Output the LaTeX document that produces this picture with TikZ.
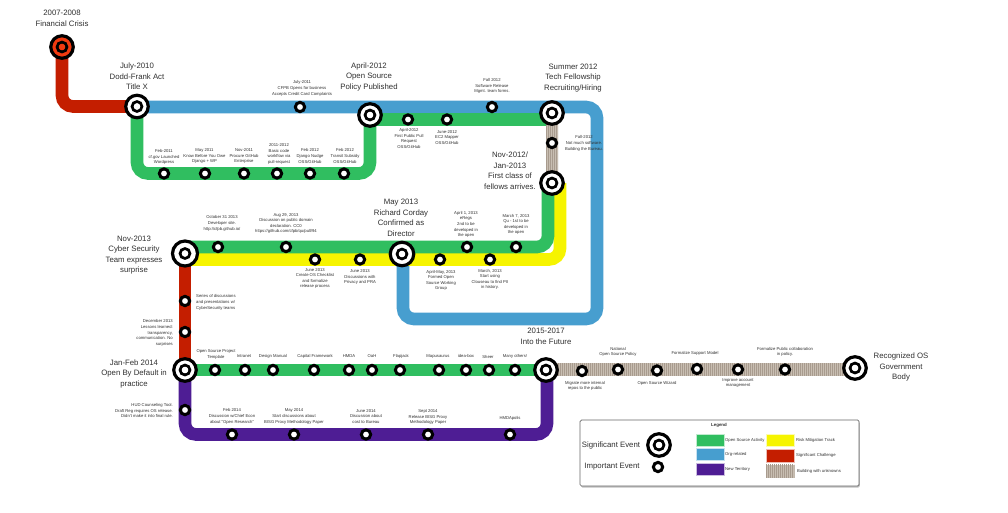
\documentclass[tikz,border=0pt]{standalone}
\usepackage{fontspec}
\setmainfont{Liberation Sans}
\usetikzlibrary{patterns.meta,shadows,calc}
\pgfdeclarelayer{lines}
\pgfsetlayers{lines,main}
\definecolor{cgreen}{HTML}{30BE60}
\definecolor{cblue}{HTML}{479ECF}
\definecolor{cred}{HTML}{C41E00}
\definecolor{cyellow}{HTML}{F6F400}
\definecolor{cpurple}{HTML}{4E1D94}
\definecolor{ctan}{HTML}{C8BEB2}
\definecolor{cstripe}{HTML}{A89B8E}
\definecolor{ccrisis}{HTML}{F03A10}
\definecolor{ctxt}{HTML}{303030}
\tikzset{
  x=1pt,y=-1pt,
  route/.style={line width=12.6pt,rounded corners=11pt,line cap=butt},
  tanroute/.style={route,draw=ctan,postaction={draw=cstripe,line width=12.6pt,dash pattern=on 1pt off 1pt}},
  bigev/.style={circle,draw=black,line width=3.2pt,fill=#1,minimum size=22.5pt,inner sep=0pt,
    path picture={\draw[black,line width=3pt] (path picture bounding box.center) circle (4.8pt);
    \fill[#1] (path picture bounding box.center) circle (3.3pt);}},
  bigev/.default=white,
  smallev/.style={circle,draw=black,line width=3pt,fill=white,minimum size=9.3pt,inner sep=0pt},
  biglab/.style={align=center,font=\fontsize{7.8}{10.5}\selectfont,text=ctxt,inner sep=0pt},
  smalllab/.style={align=center,font=\fontsize{4.2}{5.6}\selectfont,text=ctxt,inner sep=0pt},
  rlab/.style={smalllab,align=right,anchor=east},
  llab/.style={smalllab,align=left,anchor=west},
  swatch/.style={minimum width=28pt,minimum height=12.5pt,inner sep=0pt,draw=white!70!#1,line width=.5pt,fill=#1},
  stripeswatch/.style={minimum width=28pt,minimum height=12.5pt,inner sep=0pt,fill=ctan,draw=ctan,line width=.5pt,
    postaction={pattern={Lines[angle=90,distance=2pt,line width=.9pt]},pattern color=cstripe}},
  stripes/.style={pattern={Lines[angle=90,distance=2pt,line width=.9pt]},pattern color=cstripe},
  legbox/.style={draw=black!60,line width=.7pt,fill=white,rounded corners=1.5pt,minimum width=279pt,minimum height=66pt,inner sep=0pt,
    drop shadow={shadow xshift=.8pt,shadow yshift=-1.5pt,opacity=.5}},
}
\begin{document}
\begin{tikzpicture}
\useasboundingbox (0,0) rectangle (1008,513);
\begin{pgfonlayer}{lines}
\fill[white] (0,0) rectangle (1008,513);
\end{pgfonlayer}

% big events
\node[bigev=ccrisis] (crisis) at (62,47) {};
\node[bigev] (dodd) at (137,106.5) {};
\node[bigev] (policy) at (370,115) {};
\node[bigev] (summer) at (552,113) {};
\node[bigev] (nov12) at (552,183) {};
\node[bigev,minimum size=23.5pt] (may13) at (402,254) {};
\node[bigev,minimum size=25pt] (nov13) at (185,253.5) {};
\node[bigev] (jan14) at (185,370) {};
\node[bigev] (future) at (546,370) {};
\node[bigev] (recog) at (855,368) {};

% small events
\node[smallev] (e11) at (300,107) {};
\foreach \n/\x in {a1/164,a2/205,a3/244,a4/277,a5/310,a6/344}{\node[smallev] (\n) at (\x,173.5) {};}
\node[smallev] (b1) at (408,119.5) {};
\node[smallev] (b2) at (447,119.5) {};
\node[smallev] (b3) at (492,107) {};
\node[smallev] (b4) at (552,143) {};
\foreach \n/\x in {c1/218,c2/286,c3/467,c4/516}{\node[smallev] (\n) at (\x,247) {};}
\foreach \n/\x in {d1/315,d2/360,d3/440,d4/490}{\node[smallev] (\n) at (\x,259.5) {};}
\node[smallev] (r1) at (185,301) {};
\node[smallev] (r2) at (185,332) {};
\foreach \n/\x in {f1/215,f2/245,f3/273,f4/314,f5/349,f6/372,f7/400,f8/439,f9/466,f10/489,f11/515}{\node[smallev] (\n) at (\x,370) {};}
\node[smallev] (p0) at (185,410) {};
\foreach \n/\x in {p1/232,p2/294,p3/366,p4/428,p5/510}{\node[smallev] (\n) at (\x,434.5) {};}
\node[smallev] (t1) at (582,371) {};
\node[smallev] (t2) at (618,369.5) {};
\node[smallev] (t3) at (657,370.5) {};
\node[smallev] (t4) at (697,369) {};
\node[smallev] (t5) at (738,369.5) {};
\node[smallev] (t6) at (785,369.5) {};

% bends
\coordinate (rb) at (62,106.5);
\coordinate (bNE) at (597,107);
\coordinate (bSE) at (597,319);
\coordinate (bSW) at (403,319);
\coordinate (bstart) at (137,107);
\coordinate (bend) at (403,254);
\coordinate (g1a) at (137,173.5);
\coordinate (g1b) at (370,173.5);
\coordinate (g2a) at (370,119.5);
\coordinate (g2b) at (552,119.5);
\coordinate (g3a) at (548,183);
\coordinate (g3b) at (548,247);
\coordinate (g3c) at (185,247);
\coordinate (y3a) at (560,183);
\coordinate (y3b) at (560,259.5);
\coordinate (y3c) at (185,259.5);
\coordinate (pb1) at (185,434.5);
\coordinate (pb2) at (547,434.5);
\coordinate (pb3) at (547,370);
\coordinate (tA) at (546,369.5);
\coordinate (tB) at (855,369.5);

\begin{pgfonlayer}{lines}
\draw[route,cred] (crisis.center) -- (rb) -- (dodd.center);
\draw[route,cblue] (bstart) -- (bNE) -- (bSE) -- (bSW) -- (bend);
\draw[route,cgreen] (dodd.center) -- (g1a) -- (g1b) -- (policy.center);
\draw[route,cgreen] (g2a) -- (g2b);
\draw[route,ctan] (summer.center) -- (nov12.center);
\fill[stripes] (546,113) rectangle (558,183);
\draw[route,cyellow] (y3a) -- (y3b) -- (y3c);
\draw[route,cgreen] (g3a) -- (g3b) -- (g3c);
\draw[route,cred] (nov13.center) -- (jan14.center);
\draw[route,cgreen] (jan14.center) -- (future.center);
\draw[route,cpurple] (jan14.center) -- (pb1) -- (pb2) -- (pb3);
\draw[tanroute] (tA) -- (tB);
\end{pgfonlayer}

% big labels
\node[biglab] (lcrisis) at (62,18.5) {2007-2008\\Financial Crisis};
\node[biglab] (ldodd) at (137,76.5) {July-2010\\Dodd-Frank Act\\Title X};
\node[biglab] (lpolicy) at (369,76.5) {April-2012\\Open Source\\Policy Published};
\node[biglab] (lsummer) at (573,78) {Summer 2012\\Tech Fellowship\\Recruiting/Hiring};
\node[biglab] (lnov12) at (510,170.5) {Nov-2012/\\Jan-2013\\First class of\\fellows arrives.};
\node[biglab] (lmay13) at (401,218) {May 2013\\Richard Corday\\Confirmed as\\Director};
\node[biglab] (lnov13) at (134,255) {Nov-2013\\Cyber Security\\Team expresses\\surprise};
\node[biglab] (ljan14) at (134,373.5) {Jan-Feb 2014\\Open By Default in\\practice};
\node[biglab] (lfuture) at (546,336.5) {2015-2017\\Into the Future};
\node[biglab] (lrecog) at (901,367) {Recognized OS\\Government\\Body};

% small labels
\node[smalllab] (l01) at (302,88.5) {July-2011\\CFPB Opens for business\\Accepts Credit Card Complaints};
\node[smalllab] (l02) at (164,157) {Feb-2011\\cf.gov Launched\\Wordpress};
\node[smalllab] (l03) at (204.5,156) {May 2011\\Know Before You Owe\\Django + WP};
\node[smalllab] (l04) at (244,156) {Nov-2011\\Procure GitHub\\Enterprise};
\node[smalllab] (l05) at (279,154) {2011-2012\\Basic code\\workflow via\\pull-request};
\node[smalllab] (l06) at (310,156) {Feb 2012\\Django Nudge\\OSS/GitHub};
\node[smalllab] (l07) at (345,156) {Feb 2012\\Transit Subsidy\\OSS/GitHub};
\node[smalllab] (l08) at (409,138.5) {April-2012\\First Public Pull\\Request\\OSS/GitHub};
\node[smalllab] (l09) at (447,137.5) {June-2012\\EC2 Mapper\\OSS/GitHub};
\node[smalllab] (l10) at (492,86) {Fall 2012\\Software Release\\Mgmt. team forms.};
\node[smalllab] (l11) at (584,143.5) {Fall-2012\\Not much software.\\Building the Bureau.};
\node[smalllab] (l12) at (222,223.5) {October 31 2013\\Developer site.\\http://cfpb.github.io/};
\node[smalllab] (l13) at (286,223.5) {Aug 29, 2013\\Discussion on public domain\\declaration. CC0\\https://github.com/cfpb/qu/pull/94};
\node[smalllab] (l14) at (315,278.5) {June 2013\\Create OS Checklist\\and formalize\\release process};
\node[smalllab] (l15) at (360,277) {June 2013\\Discussions with\\Privacy and PRA};
\node[smalllab] (l16) at (441,280.5) {April-May, 2013\\Formed Open\\Source Working\\Group};
\node[smalllab] (l17) at (466,224.5) {April 1, 2013\\eRegs\\2nd to be\\developed in\\the open};
\node[smalllab] (l18) at (516,224.5) {March 7, 2013\\Qu - 1st to be\\developed in\\the open};
\node[smalllab] (l19) at (490,279.5) {March, 2013\\Start using\\Clouseau to find PII\\in history.};
\node[llab] (l20) at (196,302.5) {Series of discussions\\and presentations w/\\CyberSecurity teams};
\node[rlab] (l21) at (173,333) {December 2013\\Lessons learned:\\transparency,\\communication. No\\surprises};
\node[smalllab] (l22) at (216,354.5) {Open Source Project\\Template};
\node[smalllab] (l23) at (244,356.5) {Intranet};
\node[smalllab] (l24) at (273,356.5) {Design Manual};
\node[smalllab] (l25) at (315,356.5) {Capital Framework};
\node[smalllab] (l26) at (349,356.5) {HMDA};
\node[smalllab] (l27) at (372,356.5) {OaH};
\node[smalllab] (l28) at (401,356.5) {Flapjack};
\node[smalllab] (l29) at (438,356.5) {Mapusaurus};
\node[smalllab] (l30) at (466,355.5) {idea-box};
\node[smalllab] (l31) at (488,356.5) {Sheer};
\node[smalllab] (l32) at (515,356.5) {Many others!};
\node[rlab] (l33) at (173,410.5) {HUD Counseling Tool.\\Draft Reg requires OS release.\\Didn't make it into final rule.};
\node[smalllab] (l34) at (232,416.5) {Feb 2014\\Discussion w/Chief Econ\\about "Open Research"};
\node[smalllab] (l35) at (294,416.5) {May 2014\\Start discussions about\\BISG Proxy Methodology Paper};
\node[smalllab] (l36) at (366,416.5) {June 2014\\Discussion about\\cost to Bureau};
\node[smalllab] (l37) at (428,417) {Sept 2014\\Release BISG Proxy\\Methodology Paper};
\node[smalllab] (l38) at (510,418.5) {HMDApolis};
\node[smalllab] (l39) at (585,386) {Migrate more internal\\repos to the public};
\node[smalllab] (l40) at (618,352) {National\\Open Source Policy};
\node[smalllab] (l41) at (657,383) {Open Source Wizard};
\node[smalllab] (l42) at (695,353.5) {Formalize Support Model};
\node[smalllab] (l43) at (738,383) {Improve account\\management};
\node[smalllab] (l44) at (785,352) {Formalize Public collaboration\\in policy.};

% legend
\node[legbox] (legend) at (719.5,453) {};
\node[smalllab,font=\bfseries\fontsize{4.4}{5.6}\selectfont] (legt) at (719,425) {Legend};
\node[biglab] (sig) at (611,445) {Significant Event};
\node[biglab] (imp) at (612,467) {Important Event};
\node[bigev] (lsig) at (659,445) {};
\node[smallev] (limp) at (658,467) {};
\node[swatch=cgreen] (s1) at (710,440) {};
\node[swatch=cblue] (s2) at (710,454) {};
\node[swatch=cpurple] (s3) at (710,469) {};
\node[swatch=cyellow] (s4) at (780,440) {};
\node[swatch=cred] (s5) at (780,455.5) {};
\node[stripeswatch] (s6) at (780,471) {};
\node[llab] (t1l) at (725,440) {Open Source Activity};
\node[llab] (t2l) at (725,454) {Org-related};
\node[llab] (t3l) at (725,469) {New Territory};
\node[llab] (t4l) at (796,440) {Risk Mitigation Track};
\node[llab] (t5l) at (796,455) {Significant Challenge};
\node[llab] (t6l) at (797,471) {Building with unknowns};
\end{tikzpicture}
\end{document}
